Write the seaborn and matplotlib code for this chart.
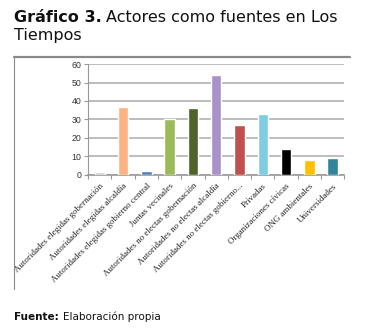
import matplotlib
matplotlib.use('Agg')
import matplotlib.pyplot as plt
import seaborn as sns
import pandas as pd
from matplotlib.lines import Line2D

actores = [
    'Autoridades elegidas gobernación',
    'Autoridades elegidas alcaldía',
    'Autoridades elegidas gobierno central',
    'Juntas vecinales',
    'Autoridades no electas gobernación',
    'Autoridades no electas alcaldía',
    'Autoridades no electas gobierno...',
    'Privadas',
    'Organizaciones cívicas',
    'ONG ambientales',
    'Universidades',
]
menciones = [1.5, 37, 2, 30, 36, 54, 27, 33, 14, 8, 9]
colores = ['#cfcfcf', '#fdb384', '#4f81bd', '#9bbb59', '#4f6228', '#a992c9',
           '#c0504d', '#7fcde3', '#000000', '#ffc000', '#31849b']
yticks = [0, 10, 20, 30, 40, 50, 60]

df = pd.DataFrame({'actor': actores, 'menciones': menciones})

sns.set_style('white')
fig = plt.figure(figsize=(3.75, 3.33), dpi=100)
ax = fig.add_axes([0.235, 0.4745, 0.683, 0.3333])

sns.barplot(data=df, x='actor', y='menciones', hue='actor', palette=colores,
            legend=False, width=0.45, saturation=1, ax=ax, zorder=3)

ax.set_ylim(0, 60)
ax.set_xlim(-0.5, len(actores) - 0.5)
ax.set_yticks(yticks)
ax.set_yticklabels([str(v) for v in yticks], fontsize=6.3, color='#333333',
                   family='Liberation Sans')
ax.grid(axis='y', color='#bdbdbd', linewidth=1.4, zorder=0)
ax.set_xlabel('')
ax.set_ylabel('')
ax.set_xticks(range(len(actores)))
ax.set_xticklabels(actores, rotation=45, ha='right', rotation_mode='anchor',
                   fontsize=6.4, family='Liberation Serif', color='#222222')
ax.set_xticks([i - 0.5 for i in range(len(actores) + 1)], minor=True)
ax.tick_params(axis='x', which='major', length=0, pad=5)
ax.tick_params(axis='x', which='minor', length=3, color='#999999', width=0.8,
               direction='out', bottom=True)
ax.tick_params(axis='y', length=3, color='#999999', width=0.8, left=True, pad=2)
for s in ['top', 'right']:
    ax.spines[s].set_visible(False)
ax.spines['left'].set_color('#999999')
ax.spines['bottom'].set_color('#999999')
ax.spines['bottom'].set_linewidth(1.2)

# marco del gráfico
fig.add_artist(Line2D([14 / 375, 350 / 375], [1 - 57 / 333, 1 - 57 / 333],
                      color='#8a8a8a', linewidth=1.6))
fig.add_artist(Line2D([14 / 375, 14 / 375], [1 - 57 / 333, 1 - 289 / 333],
                      color='#8a8a8a', linewidth=0.8))

# textos: parte en negrita y parte normal
renderer = fig.canvas.get_renderer()


def texto_mixto(x, y, negrita, normal, size):
    t = fig.text(x, y, negrita, fontsize=size, fontweight='bold',
                 color='#111111', va='baseline')
    bb = t.get_window_extent(renderer=renderer)
    x2 = bb.x1 / fig.bbox.width + 4 / 375
    fig.text(x2, y, normal, fontsize=size, color='#111111', va='baseline')


texto_mixto(14 / 375, 1 - 22 / 333, 'Gráfico 3.',
            'Actores como fuentes en Los', 11.5)
fig.text(14 / 375, 1 - 40 / 333, 'Tiempos', fontsize=11.5, color='#111111',
         va='baseline')
texto_mixto(14 / 375, 1 - 320 / 333, 'Fuente:', 'Elaboración propia', 7.5)

fig.savefig('out.png', dpi=100)
